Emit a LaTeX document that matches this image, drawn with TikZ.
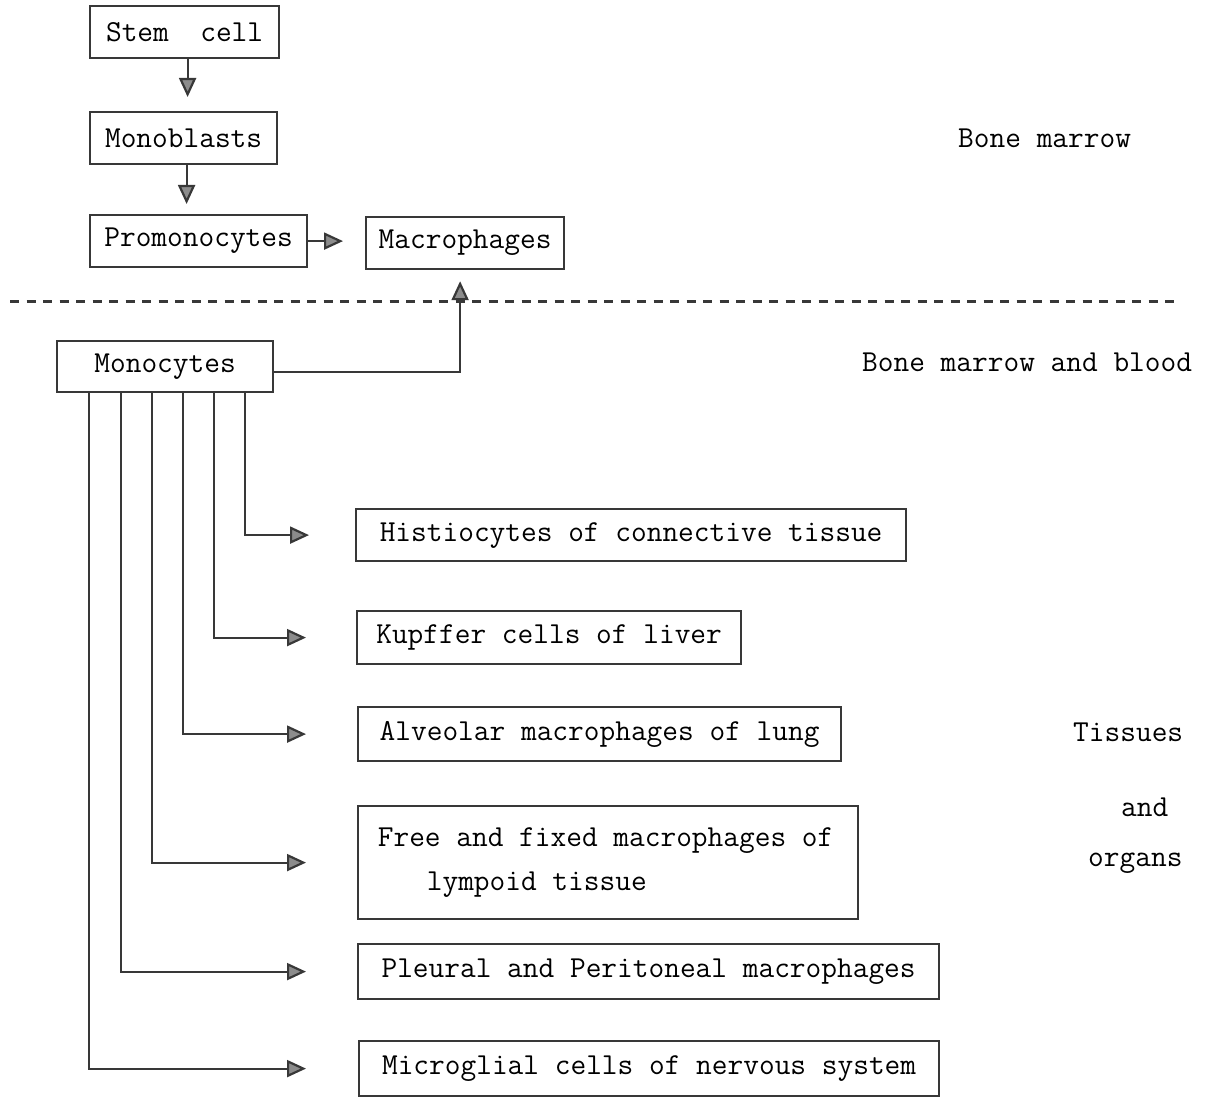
\documentclass[tikz,border=0pt]{standalone}
\usepackage{fontspec}
\usetikzlibrary{arrows.meta,calc}
\tikzset{
  ink/.style={draw=black!78, line width=2.2pt},
  cellbox/.style={ink, rectangle, minimum height=52pt, inner sep=0pt, anchor=north west, align=center, text=black},
  label/.style={anchor=west, inner sep=0pt, text=black},
  conn/.style={ink, -{Triangle[length=19pt,width=17pt,fill=black!45]}},
}
\begin{document}
\begin{tikzpicture}[x=1pt,y=-1pt,font=\ttfamily\fontsize{30.5}{44}\selectfont]
\useasboundingbox (0,0) rectangle (1207,1110);
% top boxes
\node[cellbox, minimum width=189pt] (stem) at (89,5) {Stem~~cell};
\node[cellbox, minimum width=187pt] (mblast) at (89,111) {Monoblasts};
\node[cellbox, minimum width=217pt] (promono) at (89,214) {Promonocytes};
\node[cellbox, minimum width=198pt] (macro) at (365,216) {Macrophages};
\draw[conn, shorten >=14pt] ([xshift=3pt]stem.south) -- ([xshift=3pt]stem.south |- mblast.north);
\draw[conn, shorten >=10pt] ([xshift=3pt]mblast.south) -- ([xshift=3pt]mblast.south |- promono.north);
\draw[conn, shorten >=22pt] (promono.east) -- (promono.east -| macro.west);
% dashed divider
\coordinate (dl) at (10,301);
\coordinate (dr) at (1175,301);
\draw[draw=black!78, line width=3pt, dash pattern=on 9pt off 7.5pt] (dl) -- (dr);
% monocytes
\node[cellbox, minimum width=216pt, minimum height=51pt] (mono) at (56,340) {Monocytes};
\draw[conn, shorten >=11pt] ([yshift=-5pt]mono.east) -| ([xshift=-5pt]macro.south);
% tissue boxes
\node[cellbox, minimum width=550pt] (hist) at (355,508) {Histiocytes of connective tissue};
\node[cellbox, minimum width=384pt, minimum height=53pt] (kupf) at (356,610) {Kupffer cells of liver};
\node[cellbox, minimum width=483pt, minimum height=54pt] (alv) at (357,706) {Alveolar macrophages of lung};
\node[cellbox, minimum width=500pt, minimum height=113pt, align=left] (free) at (357,805) {\hspace*{-5pt}Free and fixed macrophages of\\\hspace*{44pt}lympoid tissue};
\node[cellbox, minimum width=581pt, minimum height=55pt] (pleu) at (357,943) {Pleural and Peritoneal macrophages};
\node[cellbox, minimum width=580pt, minimum height=55pt] (micro) at (358,1040) {Microglial cells of nervous system};
% branches from monocytes
\draw[conn] ([xshift=80pt]mono.south) |- ([xshift=-46pt]hist.west);
\draw[conn] ([xshift=49pt]mono.south) |- ([xshift=-50pt]kupf.west);
\draw[conn] ([xshift=18pt]mono.south) |- ([xshift=-51pt]alv.west);
\draw[conn] ([xshift=-13pt]mono.south) |- ([xshift=-51pt]free.west);
\draw[conn] ([xshift=-44pt]mono.south) |- ([xshift=-51pt]pleu.west);
\draw[conn] ([xshift=-76pt]mono.south) |- ([xshift=-52pt]micro.west);
% side labels
\node[label] (bm) at (958,138) {Bone marrow};
\node[label] (bmb) at (862,362) {Bone marrow and blood};
\node[label] (tis) at (1073,732) {Tissues};
\node[label] (and) at (1121,807) {and};
\node[label] (org) at (1088,863) {organs};
\end{tikzpicture}
\end{document}
